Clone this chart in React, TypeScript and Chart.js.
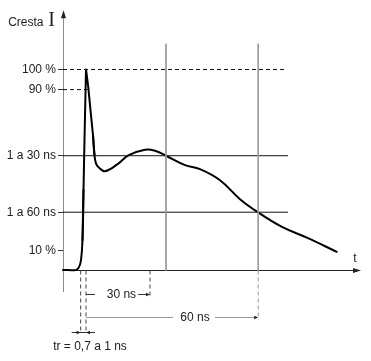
import React, { useEffect, useRef } from "react";
import { Chart, registerables } from "chart.js";

Chart.register(...registerables);

// Waveform: time (schematic units) and current (% of peak)
const curveTime = [0, 4.36, 5.37, 6.04, 6.54, 6.88, 7.21, 7.72, 8.49, 9.23, 10.07, 10.57, 11.07, 11.85, 14.09, 18.56, 21.91, 27.52, 30.87, 34.56, 40.94, 45.97, 52.68, 59.4, 65.5, 73.49, 82.2, 91.85];
const curveCurrent = [0.3, 0.3, 1.7, 5.2, 15.1, 40.0, 64.8, 100, 91.1, 79.7, 67.2, 57.3, 53.3, 51.5, 49.4, 53.2, 57.3, 60.1, 59.6, 57.1, 52.4, 50.4, 44.9, 35.5, 28.9, 21.7, 16.1, 9.3];
// index ranges: rounded foot, straight spike, smooth tail
const footRange = [0, 5];
const spikeRange = [4, 11];
const tailRange = [10, 27];

// Reference levels (y axis)
const levelValues = [100, 90, 57.1, 29, 10];
const levelLabels = ["100 %", "90 %", "1 a 30 ns", "1 a 60 ns", "10 %"];
const levelEnds = [74.8, 8.3, 75.5, 75.5, 0];
const levelDashed = [true, true, false, false, false];

// Time markers
const riseStart = 5.93;
const peakTime = 7.72;
const mark30 = 29.19;
const mark60 = 65.5;
const gridTimes = [34.56, 65.5];
const gridTop = 112.8;

// Texts
const yTitle = "Cresta";
const ySymbol = "I";
const xSymbol = "t";
const span30Label = "30 ns";
const span60Label = "60 ns";
const riseLabel = "tr = 0,7 a 1 ns";

const X_MAX = 100;
const Y_MAX = 130;
const FONT = "'Liberation Sans', Arial, sans-serif";
const SERIF = "'Liberation Serif', 'Times New Roman', serif";

function arrowHead(ctx: CanvasRenderingContext2D, tx: number, ty: number, dir: string, len = 5, half = 2) {
  ctx.beginPath();
  if (dir === "right") {
    ctx.moveTo(tx, ty);
    ctx.lineTo(tx - len, ty - half);
    ctx.lineTo(tx - len, ty + half);
  } else if (dir === "left") {
    ctx.moveTo(tx, ty);
    ctx.lineTo(tx + len, ty - half);
    ctx.lineTo(tx + len, ty + half);
  } else {
    ctx.moveTo(tx, ty);
    ctx.lineTo(tx - half, ty + len);
    ctx.lineTo(tx + half, ty + len);
  }
  ctx.closePath();
  ctx.fill();
}

function hLine(ctx: CanvasRenderingContext2D, x1: number, x2: number, yy: number) {
  ctx.beginPath();
  ctx.moveTo(x1, yy);
  ctx.lineTo(x2, yy);
  ctx.stroke();
}

const diagramPlugin = {
  id: "diagram",
  beforeDatasetsDraw(chart: any) {
    const { ctx, chartArea } = chart;
    const x = chart.scales.x;
    const y = chart.scales.y;
    const ax = Math.round(x.getPixelForValue(0)) + 0.5;
    const ay = Math.round(y.getPixelForValue(0)) - 0.5;
    ctx.save();
    ctx.strokeStyle = "#8c8c8c";
    ctx.lineWidth = 1;
    ctx.beginPath();
    ctx.moveTo(ax, chartArea.top + 4);
    ctx.lineTo(ax, y.getPixelForValue(-10.7));
    ctx.stroke();
    ctx.fillStyle = "#222";
    arrowHead(ctx, ax, chartArea.top + 1, "up", 8, 2.5);
    ctx.strokeStyle = "#222";
    hLine(ctx, ax, chartArea.right - 4, ay);
    arrowHead(ctx, chartArea.right, ay, "right", 8, 2.5);
    ctx.restore();
  },
  afterDatasetsDraw(chart: any) {
    const { ctx, chartArea } = chart;
    const x = chart.scales.x;
    const y = chart.scales.y;
    const ax = Math.round(x.getPixelForValue(0)) + 0.5;
    const ay = Math.round(y.getPixelForValue(0)) - 0.5;
    const px = (v: number) => x.getPixelForValue(v);
    const py = (v: number) => Math.round(y.getPixelForValue(v)) + 0.5;
    ctx.save();
    ctx.lineWidth = 1;
    ctx.fillStyle = "#222";
    ctx.font = `12px ${FONT}`;
    ctx.textAlign = "right";
    ctx.textBaseline = "alphabetic";
    ctx.fillText(yTitle, ax - 20, chartArea.top + 16.5);
    ctx.font = `20px ${SERIF}`;
    ctx.textAlign = "center";
    ctx.fillText(ySymbol, ax - 12, chartArea.top + 16.5);
    ctx.font = `12px ${FONT}`;
    ctx.fillText(xSymbol, chartArea.right - 6, ay - 8.5);

    // 30 ns span
    ctx.strokeStyle = "#333";
    const r30 = py(-11.8);
    hLine(ctx, px(peakTime), px(10.74), r30);
    hLine(ctx, px(25.2), px(mark30) - 3, r30);
    arrowHead(ctx, px(mark30), r30, "right", 4, 1.8);
    ctx.textBaseline = "middle";
    ctx.fillText(span30Label, px(19.6), r30);

    // 60 ns span
    ctx.strokeStyle = "#9a9a9a";
    const r60 = py(-23.1);
    hLine(ctx, px(peakTime), px(36.9), r60);
    hLine(ctx, px(51.0), px(mark60) - 3, r60);
    arrowHead(ctx, px(mark60), r60, "right", 4, 1.8);
    ctx.fillText(span60Label, px(44.3), r60);

    // rise time
    ctx.strokeStyle = "#333";
    const rtr = py(-30.5);
    hLine(ctx, px(2.9), px(10.74), rtr);
    arrowHead(ctx, px(riseStart), rtr, "right", 4, 1.8);
    arrowHead(ctx, px(peakTime), rtr, "left", 4, 1.8);
    ctx.textBaseline = "alphabetic";
    ctx.fillText(riseLabel, px(9.06), y.getPixelForValue(-39.4));
    ctx.restore();
  },
};

function lineSet(points: { x: number; y: number }[], color: string, dashed: boolean, width = 1) {
  return {
    data: points,
    borderColor: color,
    borderWidth: width,
    borderDash: dashed ? [4, 3] : [],
    pointRadius: 0,
    tension: 0,
    clip: false as any,
    fill: false,
  };
}

function curveSlice(range: number[], tension: number) {
  const pts = [];
  for (let i = range[0]; i <= range[1]; i++) pts.push({ x: curveTime[i], y: curveCurrent[i] });
  return {
    data: pts,
    borderColor: "#000",
    borderWidth: 2,
    pointRadius: 0,
    tension,
    borderJoinStyle: "round",
    borderCapStyle: "round",
    clip: false,
    fill: false,
  };
}

export default function App() {
  const canvasRef = useRef<HTMLCanvasElement | null>(null);

  useEffect(() => {
    document.body.style.margin = "0";
    const canvas = canvasRef.current;
    if (!canvas) return;

    const datasets: any[] = [];
    gridTimes.forEach((t) => {
      datasets.push(lineSet([{ x: t, y: gridTop }, { x: t, y: 0 }], "#9a9a9a", false));
    });
    levelValues.forEach((v, i) => {
      if (levelEnds[i] > 0) {
        datasets.push(lineSet([{ x: 0, y: v }, { x: levelEnds[i], y: v }], "#111", levelDashed[i]));
      }
    });
    datasets.push(lineSet([{ x: riseStart, y: 0 }, { x: riseStart, y: -31 }], "#444", true));
    datasets.push(lineSet([{ x: peakTime, y: 0 }, { x: peakTime, y: -31 }], "#444", true));
    datasets.push(lineSet([{ x: mark30, y: 0 }, { x: mark30, y: -12.6 }], "#444", true));
    datasets.push(lineSet([{ x: mark60, y: 0 }, { x: mark60, y: -24.6 }], "#9a9a9a", true));
    datasets.push(curveSlice(footRange, 0.4));
    datasets.push(curveSlice(spikeRange, 0));
    datasets.push(curveSlice(tailRange, 0.4));

    const sortedLevels = [...levelValues].sort((a, b) => a - b);

    const chart = new Chart(canvas, {
      type: "line",
      data: { datasets },
      options: {
        animation: false,
        responsive: false,
        devicePixelRatio: 1,
        events: [],
        layout: { padding: { top: 8.5, bottom: 90.5, left: 0, right: 10 } },
        plugins: { legend: { display: false }, tooltip: { enabled: false } },
        scales: {
          x: { type: "linear", min: 0, max: X_MAX, display: false },
          y: {
            type: "linear",
            min: 0,
            max: Y_MAX,
            afterBuildTicks: (s: any) => {
              s.ticks = sortedLevels.map((v) => ({ value: v }));
            },
            afterFit: (s: any) => {
              s.width = 63;
            },
            border: { display: false },
            grid: { drawOnChartArea: false, drawTicks: true, tickLength: 5, color: "#333" },
            ticks: {
              autoSkip: false,
              padding: 2,
              color: "#222",
              font: { family: FONT, size: 12 },
              callback: (v: any) => {
                const i = levelValues.indexOf(Number(v));
                return i >= 0 ? levelLabels[i] : "";
              },
            },
          },
        },
      },
      plugins: [diagramPlugin],
    } as any);

    return () => chart.destroy();
  }, []);

  return (
    <div style={{ width: 371, height: 361, background: "#fff" }}>
      <canvas ref={canvasRef} width={371} height={361} style={{ width: 371, height: 361, display: "block" }} />
    </div>
  );
}
